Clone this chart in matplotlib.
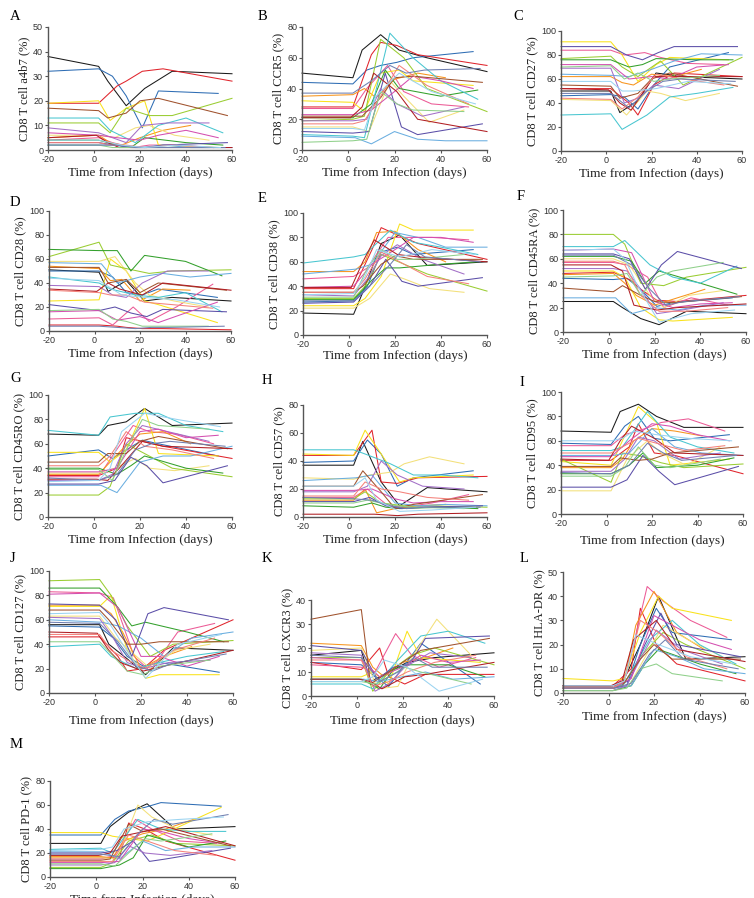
import matplotlib
matplotlib.use("Agg")
import matplotlib.pyplot as plt

plt.rcParams["axes.unicode_minus"] = False

W, H = 754, 898

# one colour and one set of sampling days per subject
colors = ["#1a1a1a", "#2e6db4", "#e0242c", "#ec5a96", "#f7941d", "#f9e21b",
          "#f3e07a", "#9acd32", "#33a02c", "#48c6d0", "#6aaee0", "#5b4ea8",
          "#a36fc7", "#d44fb0", "#a0522d", "#b01e23", "#f4817a", "#8fd08a",
          "#6f7fb0", "#9ad3f0"]

times = [
    [-20, 2, 6, 14, 22, 34, 60],
    [-20, 2, 8, 14, 21, 28, 54],
    [-20, 2, 10, 14, 21, 30, 60],
    [-20, 2, 8, 17, 24, 36, 52],
    [-20, 2, 7, 12, 20, 30, 42],
    [-20, 2, 7, 14, 22, 28, 54],
    [-20, 2, 9, 18, 24, 35, 50],
    [-20, 2, 7, 14, 24, 34, 60],
    [-20, 2, 10, 16, 22, 40, 56],
    [-20, 2, 7, 18, 28, 40, 56],
    [-20, 3, 10, 20, 30, 42, 60],
    [-20, 2, 9, 16, 23, 30, 58],
    [-20, 2, 8, 14, 21, 32, 50],
    [-20, 2, 10, 20, 28, 40, 54],
    [-20, 2, 6, 14, 20, 28, 58],
    [-20, 1, 6, 11, 21, 30, 60],
    [-20, 2, 7, 14, 22, 34, 52],
    [-20, 2, 8, 14, 21, 28, 50],
    [-20, 2, 10, 18, 25, 33, 57],
    [-20, 2, 7, 12, 22, 36, 55],
]

a4b7 = [[38, 34, 28, 18, 25, 32, 31], [32, 33, 30, 22, 9, 24, 23], [19, 19, 26, 28, 32, 33, 28],
        [4, 5, 3, 1, 2, 2, 1], [5, 6, 3, 2, 5, 8, 10], [19, 20, 12, 17, 20, 2, 1],
        [6, 6, 5, 9, 10, 6, 4], [11, 11, 7, 17, 14, 14, 21], [4, 4, 2, 1, 5, 3, 2],
        [13, 13, 8, 3, 10, 13, 7], [2, 2, 2, 1, 2, 1, 1], [3, 3, 2, 1, 1, 2, 3],
        [9, 7, 5, 3, 10, 11, 11], [7, 6, 5, 4, 6, 8, 5], [17, 16, 13, 15, 20, 21, 14],
        [5, 6, 3, 1, 1, 1, 1], [3, 3, 2, 2, 1, 2, 1], [2, 2, 1, 1, 1, 1, 1],
        [2, 2, 2, 1, 1, 1, 1], [4, 4, 3, 2, 1, 2, 1]]

ccr5 = [[50, 47, 65, 75, 65, 60, 51], [44, 43, 52, 55, 57, 60, 64], [28, 28, 62, 70, 68, 62, 55],
        [27, 27, 40, 55, 38, 30, 28], [35, 36, 40, 34, 46, 50, 47], [32, 31, 25, 50, 52, 45, 42],
        [15, 15, 12, 45, 35, 18, 26], [19, 20, 22, 72, 60, 40, 25], [21, 21, 30, 52, 40, 35, 39],
        [10, 9, 8, 76, 60, 45, 33], [9, 8, 4, 12, 7, 6, 6], [12, 11, 12, 50, 15, 10, 17],
        [19, 19, 20, 40, 30, 22, 28], [23, 23, 26, 38, 48, 45, 40], [22, 22, 22, 34, 47, 48, 44],
        [21, 21, 28, 50, 38, 20, 12], [17, 17, 19, 35, 55, 42, 30], [5, 6, 7, 38, 30, 26, 25],
        [37, 37, 45, 55, 50, 52, 53], [14, 14, 13, 35, 50, 38, 30]]

cd27 = [[50, 50, 32, 42, 65, 62, 60], [46, 47, 45, 35, 55, 70, 82], [52, 52, 40, 30, 55, 65, 62],
        [84, 84, 80, 82, 78, 73, 72], [62, 62, 57, 55, 64, 62, 68], [91, 91, 80, 58, 72, 78, 76],
        [43, 42, 30, 50, 48, 42, 48], [77, 79, 70, 62, 75, 55, 78], [76, 76, 70, 72, 77, 76, 76],
        [30, 31, 18, 30, 45, 48, 53], [64, 63, 62, 68, 75, 81, 80], [87, 87, 80, 76, 82, 87, 87],
        [69, 69, 40, 44, 55, 52, 68], [72, 72, 60, 62, 60, 70, 72], [55, 54, 44, 48, 60, 65, 54],
        [52, 51, 40, 34, 62, 62, 62], [44, 43, 35, 45, 64, 60, 55], [70, 71, 60, 65, 58, 60, 63],
        [48, 48, 36, 50, 58, 60, 58], [58, 58, 50, 50, 52, 58, 56]]

cd28 = [[51, 49, 33, 42, 25, 28, 25], [50, 50, 45, 32, 30, 35, 28], [5, 5, 4, 3, 2, 2, 1],
        [10, 11, 5, 20, 8, 20, 39], [54, 52, 42, 43, 25, 35, 34], [25, 26, 60, 50, 25, 22, 7],
        [58, 58, 62, 40, 30, 25, 20], [62, 74, 55, 52, 48, 50, 51], [68, 67, 67, 50, 63, 58, 46],
        [45, 40, 35, 30, 28, 32, 16], [57, 56, 40, 45, 48, 45, 48], [22, 17, 20, 15, 12, 18, 16],
        [38, 37, 30, 28, 40, 50, 50], [16, 17, 9, 12, 7, 15, 24], [53, 53, 40, 43, 32, 40, 34],
        [35, 33, 40, 35, 30, 40, 34], [34, 32, 30, 30, 24, 22, 19], [17, 18, 10, 8, 4, 4, 4],
        [4, 4, 3, 2, 3, 3, 4], [44, 42, 36, 30, 28, 26, 20]]

cd38 = [[18, 17, 35, 75, 82, 57, 60], [27, 28, 40, 68, 72, 66, 70], [38, 38, 70, 88, 82, 75, 62],
        [46, 48, 55, 80, 80, 80, 78], [52, 52, 60, 84, 85, 70, 60], [24, 24, 30, 48, 91, 86, 86],
        [22, 22, 30, 50, 46, 38, 35], [30, 30, 40, 66, 58, 50, 36], [29, 29, 45, 55, 55, 58, 60],
        [59, 64, 66, 86, 76, 72, 66], [50, 54, 58, 84, 80, 72, 72], [26, 27, 40, 62, 44, 40, 47],
        [33, 32, 46, 65, 74, 62, 50], [39, 40, 58, 70, 80, 80, 76], [35, 35, 40, 58, 65, 62, 62],
        [39, 39, 60, 78, 66, 64, 60], [35, 35, 46, 68, 60, 48, 42], [31, 31, 55, 70, 62, 62, 66],
        [28, 28, 42, 58, 74, 64, 60], [33, 34, 48, 70, 64, 70, 66]]

cd45ra = [[25, 25, 20, 11, 6, 17, 15], [44, 43, 44, 35, 21, 24, 28], [48, 49, 42, 35, 26, 25, 30],
          [57, 57, 55, 45, 20, 28, 22], [47, 48, 40, 30, 22, 28, 35], [50, 50, 45, 20, 10, 9, 12],
          [60, 60, 55, 30, 20, 30, 34], [80, 80, 72, 40, 38, 45, 53], [62, 62, 58, 40, 50, 40, 31],
          [70, 70, 75, 55, 45, 40, 54], [28, 28, 15, 20, 18, 22, 22], [64, 64, 60, 35, 55, 66, 52],
          [52, 52, 50, 35, 15, 18, 24], [67, 68, 65, 25, 20, 23, 24], [36, 33, 38, 30, 25, 24, 29],
          [55, 55, 50, 22, 18, 20, 23], [58, 58, 55, 30, 17, 17, 20], [45, 46, 48, 30, 45, 50, 57],
          [63, 63, 55, 35, 22, 25, 29], [67, 68, 60, 40, 8, 15, 18]]

cd45ro = [[68, 67, 75, 78, 89, 75, 77], [50, 55, 48, 55, 63, 60, 50], [34, 34, 40, 65, 62, 58, 48],
          [33, 33, 50, 75, 70, 68, 60], [35, 35, 45, 55, 68, 70, 60], [53, 53, 45, 55, 89, 52, 50],
          [36, 36, 40, 48, 40, 38, 42], [18, 18, 25, 60, 50, 40, 33], [40, 40, 35, 42, 50, 40, 36],
          [71, 67, 82, 85, 85, 75, 70], [26, 26, 20, 45, 50, 50, 58], [27, 27, 30, 49, 42, 28, 42],
          [30, 30, 35, 60, 75, 70, 62], [37, 37, 40, 70, 72, 65, 67], [45, 45, 52, 52, 62, 66, 56],
          [31, 31, 30, 40, 62, 58, 56], [42, 42, 50, 70, 58, 55, 48], [39, 39, 30, 55, 80, 75, 72],
          [32, 30, 35, 55, 60, 62, 58], [29, 30, 40, 70, 85, 80, 74]]

cd57 = [[37, 37, 54, 25, 8, 21, 18], [39, 40, 55, 45, 22, 28, 33], [44, 44, 62, 25, 24, 28, 29],
        [14, 14, 20, 8, 7, 10, 16], [12, 12, 20, 3, 6, 8, 9], [45, 44, 62, 45, 25, 28, 30],
        [28, 27, 30, 32, 38, 43, 38], [13, 13, 18, 10, 8, 8, 7], [8, 7, 10, 7, 6, 7, 6],
        [48, 48, 45, 38, 30, 30, 28], [26, 28, 30, 10, 8, 9, 8], [11, 11, 14, 8, 6, 7, 8],
        [18, 18, 22, 40, 30, 22, 20], [19, 19, 20, 13, 10, 11, 11], [22, 22, 33, 18, 6, 9, 16],
        [2, 2, 2, 2, 1, 2, 3], [15, 15, 25, 20, 18, 14, 12], [10, 10, 12, 10, 8, 7, 6],
        [14, 13, 12, 8, 6, 7, 7], [22, 22, 28, 12, 4, 5, 7]]

cd95 = [[68, 67, 84, 90, 80, 71, 71], [58, 57, 72, 80, 62, 60, 65], [44, 44, 55, 74, 50, 48, 33],
        [56, 56, 65, 70, 75, 78, 68], [38, 38, 45, 60, 70, 68, 64], [43, 40, 60, 88, 75, 40, 45],
        [19, 19, 45, 60, 50, 40, 55], [45, 26, 50, 48, 42, 38, 41], [33, 33, 40, 50, 38, 40, 46],
        [52, 52, 55, 84, 63, 55, 50], [48, 48, 50, 70, 55, 50, 48], [22, 22, 28, 48, 35, 24, 39],
        [35, 35, 45, 63, 60, 45, 50], [47, 47, 60, 74, 72, 65, 60], [39, 39, 46, 44, 45, 50, 55],
        [45, 44, 60, 72, 62, 50, 48], [50, 50, 55, 62, 58, 52, 56], [31, 31, 38, 55, 40, 38, 45],
        [34, 33, 40, 58, 50, 44, 48], [60, 60, 62, 68, 65, 62, 60]]

cd127 = [[56, 56, 40, 28, 15, 37, 35], [55, 54, 45, 30, 22, 25, 17], [46, 46, 30, 18, 20, 35, 60],
         [83, 82, 78, 30, 18, 50, 57], [72, 72, 65, 50, 20, 30, 38], [71, 71, 80, 35, 12, 15, 15],
         [63, 63, 45, 30, 20, 35, 40], [92, 93, 80, 55, 30, 40, 43], [86, 86, 70, 55, 58, 50, 42],
         [38, 40, 30, 20, 25, 30, 34], [60, 58, 55, 45, 30, 45, 50], [73, 72, 60, 30, 65, 70, 60],
         [62, 61, 45, 25, 20, 25, 27], [81, 82, 70, 30, 30, 22, 30], [68, 68, 60, 40, 40, 42, 42],
         [50, 49, 35, 25, 18, 22, 35], [48, 48, 35, 27, 20, 35, 45], [42, 42, 30, 18, 15, 22, 27],
         [58, 57, 42, 22, 18, 24, 32], [65, 66, 55, 40, 12, 40, 48]]

cxcr3 = [[17, 19, 6, 10, 14, 16, 18], [14, 13, 8, 4, 13, 22, 5], [14, 11, 20, 8, 5, 9, 9],
         [13, 12, 10, 26, 17, 12, 16], [22, 21, 12, 8, 14, 16, 20], [8, 8, 10, 5, 27, 16, 14],
         [19, 20, 3, 4, 16, 32, 17], [16, 16, 2, 10, 17, 20, 13], [7, 7, 3, 11, 13, 13, 8],
         [5, 5, 3, 15, 25, 27, 22], [7, 7, 6, 8, 10, 7, 8], [21, 19, 7, 12, 13, 24, 25],
         [18, 17, 2, 5, 12, 18, 16], [16, 15, 8, 12, 17, 14, 15], [32, 36, 5, 10, 14, 19, 24],
         [7, 7, 6, 3, 8, 9, 14], [15, 15, 4, 6, 10, 14, 17], [6, 6, 5, 8, 12, 10, 5],
         [17, 16, 6, 10, 16, 12, 12], [6, 6, 8, 15, 12, 2, 7]]

hladr = [[3, 3, 4, 20, 40, 14, 15], [2, 2, 3, 20, 35, 25, 22], [3, 3, 10, 35, 20, 12, 5],
         [2, 2, 8, 44, 38, 30, 23], [3, 3, 5, 28, 42, 25, 18], [6, 5, 6, 25, 40, 35, 30],
         [1, 1, 3, 18, 28, 22, 15], [2, 2, 4, 15, 25, 20, 10], [1, 1, 3, 12, 18, 12, 8],
         [2, 2, 4, 22, 30, 20, 12], [2, 2, 3, 18, 15, 10, 8], [3, 3, 5, 20, 33, 20, 15],
         [1, 1, 3, 14, 26, 18, 12], [2, 2, 6, 32, 28, 22, 18], [2, 2, 3, 14, 20, 14, 14],
         [3, 3, 5, 22, 30, 18, 13], [2, 2, 5, 30, 25, 15, 10], [1, 1, 2, 10, 12, 8, 5],
         [2, 2, 4, 16, 22, 14, 10], [3, 3, 5, 24, 20, 15, 12]]

pd1 = [[28, 28, 42, 54, 61, 40, 42], [35, 35, 48, 55, 58, 62, 59], [16, 16, 16, 45, 40, 30, 14],
       [15, 15, 18, 48, 40, 30, 28], [17, 17, 16, 30, 36, 40, 48], [37, 37, 34, 32, 30, 35, 58],
       [16, 16, 15, 60, 50, 40, 35], [8, 8, 12, 30, 35, 28, 26], [7, 7, 10, 16, 35, 25, 30],
       [23, 24, 20, 48, 40, 38, 38], [21, 21, 15, 30, 22, 25, 25], [20, 20, 22, 30, 13, 15, 24],
       [10, 10, 12, 26, 20, 18, 22], [12, 12, 13, 40, 38, 32, 28], [14, 14, 15, 44, 38, 40, 26],
       [18, 18, 20, 34, 38, 42, 26], [13, 13, 13, 35, 30, 22, 18], [11, 11, 9, 20, 32, 30, 36],
       [19, 19, 17, 36, 48, 44, 52], [22, 23, 25, 40, 46, 48, 50]]

# letter, marker, values, y max, y step, axes box in pixels (left, top, right, bottom),
# letter position, x-label pad
panels = [
    ("A", "a4b7", a4b7, 50, 10, (48, 27, 232, 150), (10, 17), 2),
    ("B", "CCR5", ccr5, 80, 20, (302, 27, 487, 150), (258, 17), 2),
    ("C", "CD27", cd27, 100, 20, (561, 31, 742, 151), (513, 17), 2),
    ("D", "CD28", cd28, 100, 20, (49, 211, 231, 331), (10, 202), 2),
    ("E", "CD38", cd38, 100, 20, (303, 213, 487, 335), (258, 199), 1),
    ("F", "CD45RA", cd45ra, 100, 20, (563, 210, 746, 332), (517, 197), 2),
    ("G", "CD45RO", cd45ro, 100, 20, (48, 395, 232, 517), (10, 378), 2),
    ("H", "CD57", cd57, 80, 20, (303, 405, 487, 517), (262, 380), 2),
    ("I", "CD95", cd95, 100, 20, (561, 392, 743, 514), (519, 382), 5),
    ("J", "CD127", cd127, 100, 20, (49, 571, 233, 693), (10, 558), 6),
    ("K", "CXCR3", cxcr3, 40, 10, (311, 600, 494, 696), (262, 558), 4),
    ("L", "HLA-DR", hladr, 50, 10, (563, 572, 745, 693), (520, 558), 3),
    ("M", "PD-1", pd1, 80, 20, (50, 781, 235, 877), (10, 745), 2),
]

fig = plt.figure(figsize=(W / 100, H / 100), dpi=100)
serif = "Liberation Serif"
sans = "Liberation Sans"
axis_col = "#555555"

for letter, marker, vals, ymax, ystep, box, lpos, xpad in panels:
    l, t, r, b = box
    ax = fig.add_axes([l / W, 1 - b / H, (r - l) / W, (b - t) / H])
    for i, ys in enumerate(vals):
        ax.plot(times[i], ys, color=colors[i], lw=0.75, clip_on=False)
    ax.set_xlim(-20, 60)
    ax.set_ylim(0, ymax)
    ax.set_xticks([-20, 0, 20, 40, 60])
    ax.set_yticks(range(0, ymax + 1, ystep))
    for side in ("top", "right"):
        ax.spines[side].set_visible(False)
    for side in ("left", "bottom"):
        ax.spines[side].set_color(axis_col)
        ax.spines[side].set_linewidth(1.0)
    ax.tick_params(length=2.5, width=0.8, color=axis_col, labelsize=6.5, pad=1,
                   labelcolor="#333333")
    for lab in ax.get_xticklabels() + ax.get_yticklabels():
        lab.set_family(sans)
    ax.set_xlabel("Time from Infection (days)", family=serif, fontsize=9.5,
                  color="#222222", labelpad=xpad)
    ax.set_ylabel(f"CD8 T cell {marker} (%)", family=serif, fontsize=9,
                  color="#222222", labelpad=2)
    fig.text(lpos[0] / W, 1 - lpos[1] / H, letter, family=serif, fontsize=10.5,
             ha="left", va="center")

fig.savefig("out.png", dpi=100)
